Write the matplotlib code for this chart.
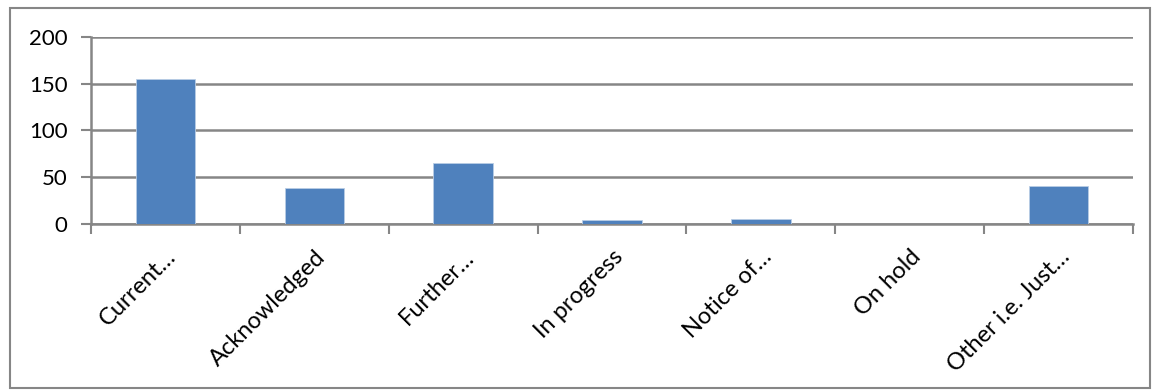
import numpy as np
import matplotlib.pyplot as plt

# data
categories = ['Current…', 'Acknowledged', 'Further…', 'In progress',
              'Notice of…', 'On hold', 'Other i.e. Just…']
counts = [155, 39, 65, 4, 5, 0, 41]

plt.rcParams['font.family'] = ['Lato', 'DejaVu Sans']
grey = '#868686'

fig = plt.figure(figsize=(11.56, 3.90), dpi=100)
fig.patches.append(plt.Rectangle((0.009, 0.005), 0.986, 0.975, transform=fig.transFigure,
                                 fill=False, edgecolor=grey, linewidth=1.5))
ax = fig.add_axes([91/1156, 1 - 224/390, (1133-91)/1156, (224-37)/390])

x = np.arange(len(categories))
ax.bar(x, counts, width=0.4, color='#4F81BD', edgecolor='#B9CDE5', linewidth=0.6, zorder=3)

ax.set_xlim(-0.5, len(categories) - 0.5)
ax.set_ylim(0, 200)
ax.set_yticks([0, 50, 100, 150, 200])
ax.yaxis.grid(True, color=grey, linewidth=1.8, zorder=0)

# category boundary ticks, labels at the centres
ax.set_xticks(np.arange(-0.5, len(categories)), minor=False)
ax.set_xticklabels([])
ax.set_xticks(x, minor=True)
ax.set_xticklabels(categories, minor=True, rotation=45, ha='right',
                   rotation_mode='anchor', fontsize=17)
ax.tick_params(axis='x', which='minor', length=0, pad=16)
ax.tick_params(axis='x', which='major', length=7, width=1.5, color=grey)
ax.tick_params(axis='y', length=7, width=1.5, color=grey, labelsize=16, pad=10)

for s in ['top', 'right']:
    ax.spines[s].set_visible(False)
for s in ['left', 'bottom']:
    ax.spines[s].set_color(grey)
    ax.spines[s].set_linewidth(1.8)

fig.savefig('out.png', dpi=100)
